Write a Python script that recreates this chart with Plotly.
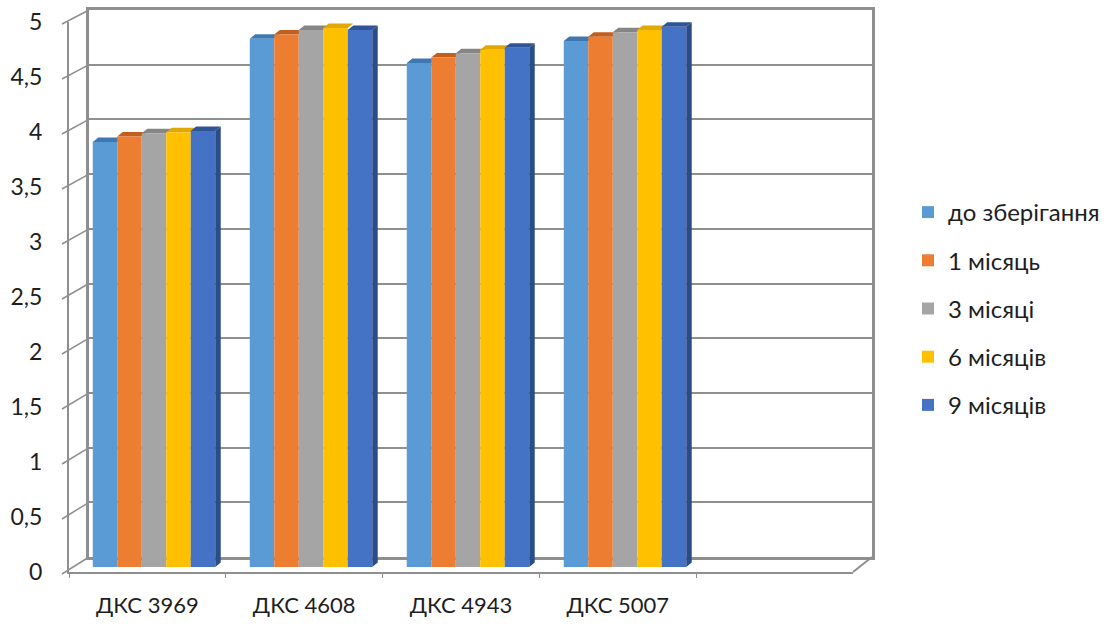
import plotly.graph_objects as go

# Data
categories = ["ДКС 3969", "ДКС 4608", "ДКС 4943", "ДКС 5007"]
series_names = ["до зберігання", "1 місяць", "3 місяці", "6 місяців", "9 місяців"]
before_storage = [3.87, 4.81, 4.59, 4.79]
month_1 = [3.92, 4.85, 4.64, 4.83]
months_3 = [3.95, 4.89, 4.68, 4.87]
months_6 = [3.96, 4.91, 4.71, 4.89]
months_9 = [3.97, 4.89, 4.73, 4.92]
y_ticks = [0, 0.5, 1, 1.5, 2, 2.5, 3, 3.5, 4, 4.5, 5]

series_values = [before_storage, month_1, months_3, months_6, months_9]
colors = ["#5B9BD5", "#ED7D31", "#A5A5A5", "#FFC000", "#4472C4"]
top_colors = ["#3F78B0", "#C25E1E", "#868686", "#E0A800", "#2F5597"]
side_color = "#2C4C86"

W, H = 1120, 626


def fx(px):
    return px / W


def fy(py):
    return 1 - py / H


# pixel geometry of the pseudo-3D frame
FRONT_X0, FRONT_X1, FRONT_Y0, FRONT_SCALE = 69, 853, 572, 110.0
BACK_X0, BACK_X1, BACK_Y0, BACK_SCALE = 89, 872, 557, 109.4
BAR_X0, BAR_X1, BAR_Y0, BAR_SCALE = 75.5, 860.5, 567, 109.8

GRID = "#8F8F8F"
TEXT = "#1E1E1E"
FONT = "Lato"

fig = go.Figure()

group_width = 0.78
n_series = len(series_values)
bar_w = group_width / n_series
for j, (name, vals) in enumerate(zip(series_names, series_values)):
    fig.add_trace(go.Bar(
        x=list(range(len(categories))), y=vals, name=name,
        marker=dict(color=colors[j], line=dict(width=0)),
        xaxis="x2", yaxis="y2", legendgroup=name,
    ))

# invisible traces so the back-wall and front-axis subplots are rendered
for xa, ya, xv in (("x", "y", 0.5), ("x3", "y3", categories[0])):
    fig.add_trace(go.Scatter(x=[xv], y=[0], xaxis=xa, yaxis=ya,
                             mode="markers", marker=dict(opacity=0),
                             showlegend=False, hoverinfo="skip"))

# depth faces of the bars (top faces and right side of the last series)
unit_px = (BAR_X1 - BAR_X0) / 5.0
dx = 5.5 / unit_px
dy = 4.5 / BAR_SCALE
shapes = []
for j, vals in enumerate(series_values):
    for i, v in enumerate(vals):
        x0 = i - group_width / 2 + j * bar_w
        x1 = x0 + bar_w
        shapes.append(dict(
            type="path", xref="x2", yref="y2", layer="below",
            path=f"M {x0},{v} L {x1},{v} L {x1 + dx},{v + dy} L {x0 + dx},{v + dy} Z",
            fillcolor=top_colors[j], line=dict(width=0),
        ))
        if j == n_series - 1:
            shapes.append(dict(
                type="path", xref="x2", yref="y2", layer="below",
                path=f"M {x1},{0} L {x1},{v} L {x1 + dx},{v + dy} L {x1 + dx},{dy} Z",
                fillcolor=side_color, line=dict(width=0),
            ))

# diagonal tick marks joining the front value axis to the back wall
for t in y_ticks:
    yf = FRONT_Y0 - FRONT_SCALE * t + 2
    yb = BACK_Y0 - BACK_SCALE * t
    shapes.append(dict(type="line", xref="paper", yref="paper",
                       x0=fx(62), y0=fy(yf), x1=fx(BACK_X0), y1=fy(yb),
                       line=dict(color=GRID, width=1.5)))
# right floor edge
shapes.append(dict(type="line", xref="paper", yref="paper",
                   x0=fx(FRONT_X1), y0=fy(FRONT_Y0), x1=fx(BACK_X1), y1=fy(BACK_Y0),
                   line=dict(color=GRID, width=2)))

fig.update_layout(
    width=W, height=H,
    margin=dict(l=0, r=0, t=0, b=0, autoexpand=False),
    paper_bgcolor="white", plot_bgcolor="rgba(0,0,0,0)",
    separators=", ",
    barmode="group", bargap=1 - group_width, bargroupgap=0,
    font=dict(family=FONT, size=20, color=TEXT),
    shapes=shapes,
    # back wall
    xaxis=dict(domain=[fx(BACK_X0), fx(BACK_X1)], range=[0, 1], showgrid=False,
               showticklabels=False, zeroline=False, showline=True, mirror=True,
               linecolor=GRID, linewidth=3, fixedrange=True, automargin=False),
    yaxis=dict(domain=[fy(BACK_Y0), fy(BACK_Y0 - 5 * BACK_SCALE)], range=[0, 5],
               tickvals=y_ticks, showgrid=True, gridcolor=GRID, gridwidth=2,
               showticklabels=False, zeroline=False, showline=True, mirror=True,
               linecolor=GRID, linewidth=3, fixedrange=True, automargin=False),
    # bar plane
    xaxis2=dict(domain=[fx(BAR_X0), fx(BAR_X1)], range=[-0.5, 4.5], visible=False,
                anchor="y2", fixedrange=True, automargin=False),
    yaxis2=dict(domain=[fy(BAR_Y0), fy(BAR_Y0 - 5 * BAR_SCALE)], range=[0, 5],
                visible=False, anchor="x2", fixedrange=True, automargin=False),
    # front axes with labels
    xaxis3=dict(domain=[fx(FRONT_X0), fx(FRONT_X1)], type="category",
                categoryarray=categories, range=[-0.5, 4.5], anchor="y3",
                showgrid=False, zeroline=False, showline=True, linecolor=GRID,
                linewidth=2, ticks="outside", tickson="boundaries", ticklen=4,
                tickcolor=GRID, tickfont=dict(size=22, color=TEXT),
                ticklabelstandoff=13, fixedrange=True, automargin=False),
    yaxis3=dict(domain=[fy(FRONT_Y0), fy(FRONT_Y0 - 5 * FRONT_SCALE)], range=[0, 5],
                tickvals=y_ticks, anchor="x3", showgrid=False, zeroline=False,
                showline=True, linecolor=GRID, linewidth=2, ticks="",
                ticklabelstandoff=20, tickfont=dict(size=23, color=TEXT),
                fixedrange=True, automargin=False),
    legend=dict(x=fx(908), y=fy(190), xanchor="left", yanchor="top",
                font=dict(size=24, color=TEXT), tracegroupgap=14,
                bgcolor="rgba(0,0,0,0)", itemclick=False),
    showlegend=True,
)

fig.write_html("out.html")
